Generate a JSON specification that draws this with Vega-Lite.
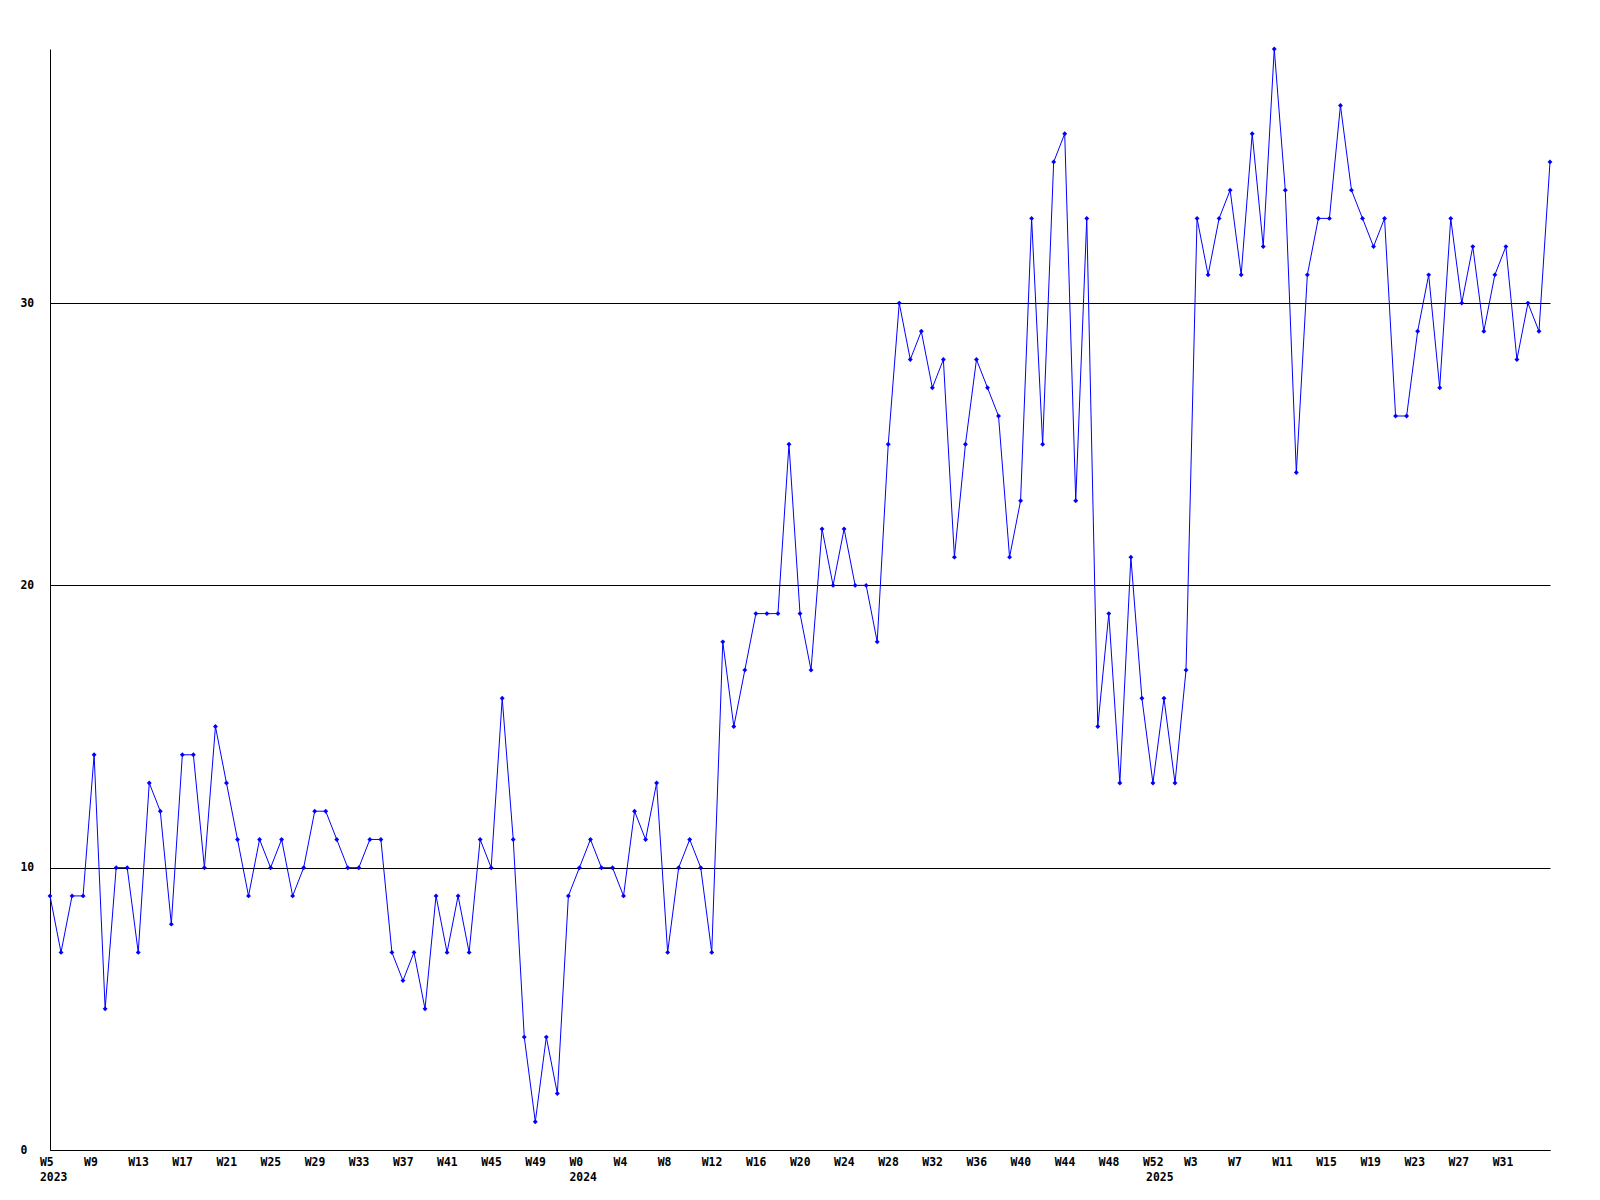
{
  "$schema": "https://vega.github.io/schema/vega-lite/v6.json",
  "width": 1500,
  "height": 1101,
  "autosize": {"type": "none"},
  "padding": {"left": 50, "top": 49, "right": 50, "bottom": 50},
  "background": "white",
  "config": {"view": {"stroke": null}, "font": "DejaVu Sans Mono"},
  "data": {"values": [
    {"date": "2023-01-30", "value": 9}, {"date": "2023-02-06", "value": 7}, {"date": "2023-02-13", "value": 9}, {"date": "2023-02-20", "value": 9},
    {"date": "2023-02-27", "value": 14}, {"date": "2023-03-06", "value": 5}, {"date": "2023-03-13", "value": 10}, {"date": "2023-03-20", "value": 10},
    {"date": "2023-03-27", "value": 7}, {"date": "2023-04-03", "value": 13}, {"date": "2023-04-10", "value": 12}, {"date": "2023-04-17", "value": 8},
    {"date": "2023-04-24", "value": 14}, {"date": "2023-05-01", "value": 14}, {"date": "2023-05-08", "value": 10}, {"date": "2023-05-15", "value": 15},
    {"date": "2023-05-22", "value": 13}, {"date": "2023-05-29", "value": 11}, {"date": "2023-06-05", "value": 9}, {"date": "2023-06-12", "value": 11},
    {"date": "2023-06-19", "value": 10}, {"date": "2023-06-26", "value": 11}, {"date": "2023-07-03", "value": 9}, {"date": "2023-07-10", "value": 10},
    {"date": "2023-07-17", "value": 12}, {"date": "2023-07-24", "value": 12}, {"date": "2023-07-31", "value": 11}, {"date": "2023-08-07", "value": 10},
    {"date": "2023-08-14", "value": 10}, {"date": "2023-08-21", "value": 11}, {"date": "2023-08-28", "value": 11}, {"date": "2023-09-04", "value": 7},
    {"date": "2023-09-11", "value": 6}, {"date": "2023-09-18", "value": 7}, {"date": "2023-09-25", "value": 5}, {"date": "2023-10-02", "value": 9},
    {"date": "2023-10-09", "value": 7}, {"date": "2023-10-16", "value": 9}, {"date": "2023-10-23", "value": 7}, {"date": "2023-10-30", "value": 11},
    {"date": "2023-11-06", "value": 10}, {"date": "2023-11-13", "value": 16}, {"date": "2023-11-20", "value": 11}, {"date": "2023-11-27", "value": 4},
    {"date": "2023-12-04", "value": 1}, {"date": "2023-12-11", "value": 4}, {"date": "2023-12-18", "value": 2}, {"date": "2023-12-25", "value": 9},
    {"date": "2024-01-01", "value": 10}, {"date": "2024-01-08", "value": 11}, {"date": "2024-01-15", "value": 10}, {"date": "2024-01-22", "value": 10},
    {"date": "2024-01-29", "value": 9}, {"date": "2024-02-05", "value": 12}, {"date": "2024-02-12", "value": 11}, {"date": "2024-02-19", "value": 13},
    {"date": "2024-02-26", "value": 7}, {"date": "2024-03-04", "value": 10}, {"date": "2024-03-11", "value": 11}, {"date": "2024-03-18", "value": 10},
    {"date": "2024-03-25", "value": 7}, {"date": "2024-04-01", "value": 18}, {"date": "2024-04-08", "value": 15}, {"date": "2024-04-15", "value": 17},
    {"date": "2024-04-22", "value": 19}, {"date": "2024-04-29", "value": 19}, {"date": "2024-05-06", "value": 19}, {"date": "2024-05-13", "value": 25},
    {"date": "2024-05-20", "value": 19}, {"date": "2024-05-27", "value": 17}, {"date": "2024-06-03", "value": 22}, {"date": "2024-06-10", "value": 20},
    {"date": "2024-06-17", "value": 22}, {"date": "2024-06-24", "value": 20}, {"date": "2024-07-01", "value": 20}, {"date": "2024-07-08", "value": 18},
    {"date": "2024-07-15", "value": 25}, {"date": "2024-07-22", "value": 30}, {"date": "2024-07-29", "value": 28}, {"date": "2024-08-05", "value": 29},
    {"date": "2024-08-12", "value": 27}, {"date": "2024-08-19", "value": 28}, {"date": "2024-08-26", "value": 21}, {"date": "2024-09-02", "value": 25},
    {"date": "2024-09-09", "value": 28}, {"date": "2024-09-16", "value": 27}, {"date": "2024-09-23", "value": 26}, {"date": "2024-09-30", "value": 21},
    {"date": "2024-10-07", "value": 23}, {"date": "2024-10-14", "value": 33}, {"date": "2024-10-21", "value": 25}, {"date": "2024-10-28", "value": 35},
    {"date": "2024-11-04", "value": 36}, {"date": "2024-11-11", "value": 23}, {"date": "2024-11-18", "value": 33}, {"date": "2024-11-25", "value": 15},
    {"date": "2024-12-02", "value": 19}, {"date": "2024-12-09", "value": 13}, {"date": "2024-12-16", "value": 21}, {"date": "2024-12-23", "value": 16},
    {"date": "2024-12-30", "value": 13}, {"date": "2025-01-06", "value": 16}, {"date": "2025-01-13", "value": 13}, {"date": "2025-01-20", "value": 17},
    {"date": "2025-01-27", "value": 33}, {"date": "2025-02-03", "value": 31}, {"date": "2025-02-10", "value": 33}, {"date": "2025-02-17", "value": 34},
    {"date": "2025-02-24", "value": 31}, {"date": "2025-03-03", "value": 36}, {"date": "2025-03-10", "value": 32}, {"date": "2025-03-17", "value": 39},
    {"date": "2025-03-24", "value": 34}, {"date": "2025-03-31", "value": 24}, {"date": "2025-04-07", "value": 31}, {"date": "2025-04-14", "value": 33},
    {"date": "2025-04-21", "value": 33}, {"date": "2025-04-28", "value": 37}, {"date": "2025-05-05", "value": 34}, {"date": "2025-05-12", "value": 33},
    {"date": "2025-05-19", "value": 32}, {"date": "2025-05-26", "value": 33}, {"date": "2025-06-02", "value": 26}, {"date": "2025-06-09", "value": 26},
    {"date": "2025-06-16", "value": 29}, {"date": "2025-06-23", "value": 31}, {"date": "2025-06-30", "value": 27}, {"date": "2025-07-07", "value": 33},
    {"date": "2025-07-14", "value": 30}, {"date": "2025-07-21", "value": 32}, {"date": "2025-07-28", "value": 29}, {"date": "2025-08-04", "value": 31},
    {"date": "2025-08-11", "value": 32}, {"date": "2025-08-18", "value": 28}, {"date": "2025-08-25", "value": 30}, {"date": "2025-09-01", "value": 29},
    {"date": "2025-09-08", "value": 35}
  ]},
  "encoding": {
    "x": {
      "field": "date",
      "type": "temporal",
      "scale": {"type": "utc", "nice": false},
      "axis": {
        "title": null,
        "values": [
          {"year": 2023, "month": 1, "date": 30, "utc": true}, {"year": 2023, "month": 2, "date": 27, "utc": true},
          {"year": 2023, "month": 3, "date": 27, "utc": true}, {"year": 2023, "month": 4, "date": 24, "utc": true},
          {"year": 2023, "month": 5, "date": 22, "utc": true}, {"year": 2023, "month": 6, "date": 19, "utc": true},
          {"year": 2023, "month": 7, "date": 17, "utc": true}, {"year": 2023, "month": 8, "date": 14, "utc": true},
          {"year": 2023, "month": 9, "date": 11, "utc": true}, {"year": 2023, "month": 10, "date": 9, "utc": true},
          {"year": 2023, "month": 11, "date": 6, "utc": true}, {"year": 2023, "month": 12, "date": 4, "utc": true},
          {"year": 2024, "month": 1, "date": 1, "utc": true}, {"year": 2024, "month": 1, "date": 29, "utc": true},
          {"year": 2024, "month": 2, "date": 26, "utc": true}, {"year": 2024, "month": 3, "date": 25, "utc": true},
          {"year": 2024, "month": 4, "date": 22, "utc": true}, {"year": 2024, "month": 5, "date": 20, "utc": true},
          {"year": 2024, "month": 6, "date": 17, "utc": true}, {"year": 2024, "month": 7, "date": 15, "utc": true},
          {"year": 2024, "month": 8, "date": 12, "utc": true}, {"year": 2024, "month": 9, "date": 9, "utc": true},
          {"year": 2024, "month": 10, "date": 7, "utc": true}, {"year": 2024, "month": 11, "date": 4, "utc": true},
          {"year": 2024, "month": 12, "date": 2, "utc": true}, {"year": 2024, "month": 12, "date": 30, "utc": true},
          {"year": 2025, "month": 1, "date": 1, "utc": true},
          {"year": 2025, "month": 1, "date": 25, "utc": true}, {"year": 2025, "month": 2, "date": 22, "utc": true},
          {"year": 2025, "month": 3, "date": 22, "utc": true}, {"year": 2025, "month": 4, "date": 19, "utc": true},
          {"year": 2025, "month": 5, "date": 17, "utc": true}, {"year": 2025, "month": 6, "date": 14, "utc": true},
          {"year": 2025, "month": 7, "date": 12, "utc": true}, {"year": 2025, "month": 8, "date": 9, "utc": true}
        ],
        "labelExpr": "[utcFormat(datum.value, '%Y-%m-%d') == '2025-01-01' ? '' : 'W' + utcFormat(datum.value, '%-U'), indexof(['2023-01-30', '2024-01-01', '2025-01-01'], utcFormat(datum.value, '%Y-%m-%d')) >= 0 ? utcFormat(datum.value, '%Y') : '']",
        "labelAlign": "left",
        "labelOffset": -10.5,
        "labelBaseline": "top",
        "labelPadding": 6,
        "labelLineHeight": 15.3,
        "ticks": false,
        "tickSize": 0,
        "grid": false,
        "domainColor": "black",
        "domainWidth": 1,
        "labelFont": "DejaVu Sans Mono",
        "labelFontWeight": "bold",
        "labelFontSize": 11.4,
        "labelColor": "black",
        "labelOverlap": false,
        "labelFlush": false,
        "labelBound": false
      }
    },
    "y": {
      "field": "value",
      "type": "quantitative",
      "scale": {"domain": [0, 39], "nice": false},
      "axis": {
        "title": null,
        "values": [0, 10, 20, 30],
        "grid": true,
        "gridColor": "black",
        "gridWidth": 1,
        "gridOpacity": 1,
        "ticks": false,
        "tickSize": 0,
        "domainColor": "black",
        "domainWidth": 1,
        "labelAlign": "left",
        "labelBaseline": "middle",
        "labelPadding": 30,
        "labelFont": "DejaVu Sans Mono",
        "labelFontWeight": "bold",
        "labelFontSize": 11.4,
        "labelColor": "black",
        "labelOverlap": false,
        "labelFlush": false,
        "labelBound": false
      }
    }
  },
  "layer": [
    {"mark": {"type": "line", "color": "#0000ff", "strokeWidth": 1}},
    {"mark": {"type": "point", "shape": "diamond", "filled": true, "color": "#0000ff", "size": 24, "opacity": 1}}
  ]
}
